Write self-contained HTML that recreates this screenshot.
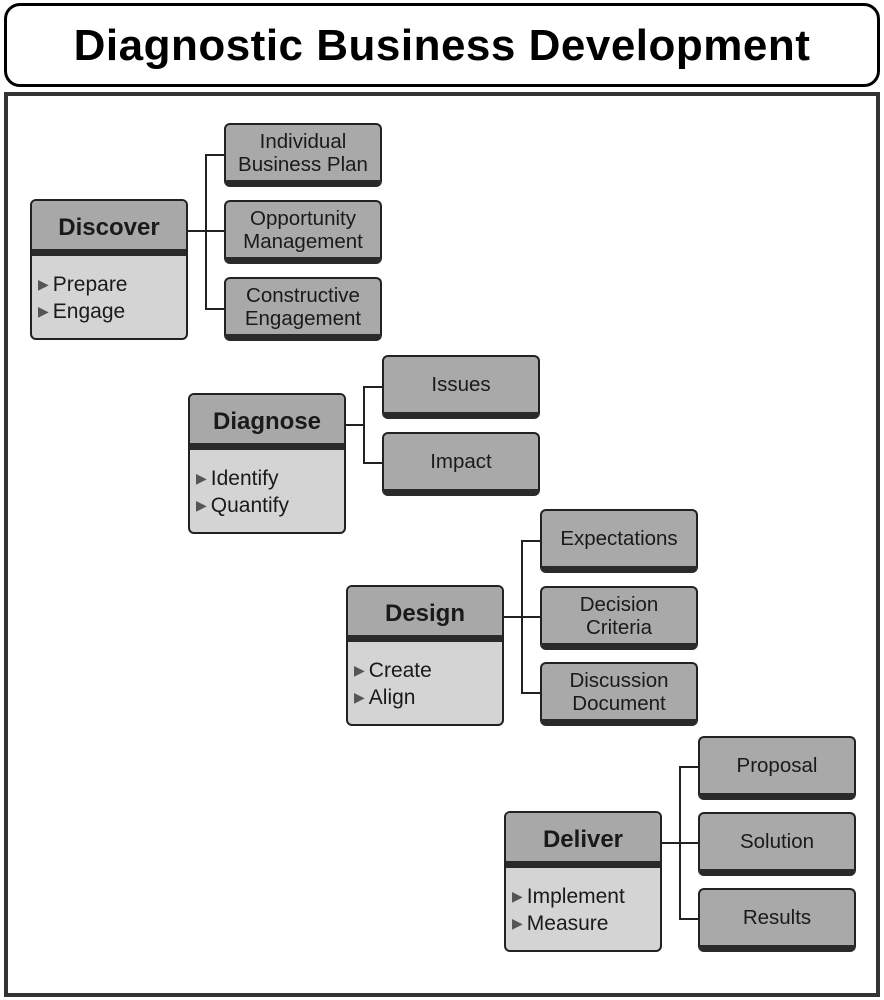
<!DOCTYPE html>
<html><head><meta charset="utf-8"><style>
body{margin:0;width:884px;height:1000px;background:#fff;position:relative;overflow:hidden;font-family:"Liberation Sans",sans-serif}
.title{position:absolute;left:4px;top:3px;width:870px;height:78px;border:3px solid #000;border-radius:16px;text-align:center;line-height:80px;font-weight:bold;font-size:44px;color:#000;letter-spacing:0.5px}
.frame{position:absolute;left:4px;top:92px;width:868px;height:897px;border:4px solid #333}
.stage{position:absolute;width:154px;height:137px;border:2px solid #222;border-radius:6px;background:#d4d4d4;overflow:hidden}
.stage .h{height:48px;background:#a8a8a8;border-bottom:7px solid #2a2a2a;text-align:center;line-height:54px;font-weight:bold;font-size:24px;color:#1a1a1a}
.stage .b{padding:15px 0 0 6px;font-size:21px;line-height:26px;color:#1a1a1a}
.stage .b span{font-size:14px;color:#555;margin-right:4px;vertical-align:2px}
.c{position:absolute;width:154px;height:55px;border:2px solid #222;border-bottom:7px solid #2a2a2a;border-radius:6px;background:#a9a9a9;display:flex;align-items:center;justify-content:center;text-align:center;font-size:20.5px;line-height:23px;color:#1a1a1a}
.l{position:absolute;background:#222}
</style></head><body>
<div class="title">Diagnostic Business Development</div>
<div class="frame"></div>

<div class="stage" style="left:30px;top:199px"><div class="h">Discover</div><div class="b"><span>&#9654;</span>Prepare<br><span>&#9654;</span>Engage</div></div>
<div class="l" style="left:188px;top:230px;width:18px;height:2px"></div>
<div class="l" style="left:205px;top:154px;width:2px;height:156px"></div>
<div class="l" style="left:205px;top:154px;width:20px;height:2px"></div>
<div class="l" style="left:205px;top:230px;width:20px;height:2px"></div>
<div class="l" style="left:205px;top:308px;width:20px;height:2px"></div>
<div class="c" style="left:224px;top:123px">Individual<br>Business Plan</div>
<div class="c" style="left:224px;top:200px">Opportunity<br>Management</div>
<div class="c" style="left:224px;top:277px">Constructive<br>Engagement</div>

<div class="stage" style="left:188px;top:393px"><div class="h">Diagnose</div><div class="b"><span>&#9654;</span>Identify<br><span>&#9654;</span>Quantify</div></div>
<div class="l" style="left:346px;top:424px;width:18px;height:2px"></div>
<div class="l" style="left:363px;top:386px;width:2px;height:78px"></div>
<div class="l" style="left:363px;top:386px;width:20px;height:2px"></div>
<div class="l" style="left:363px;top:462px;width:20px;height:2px"></div>
<div class="c" style="left:382px;top:355px">Issues</div>
<div class="c" style="left:382px;top:432px">Impact</div>

<div class="stage" style="left:346px;top:585px"><div class="h">Design</div><div class="b"><span>&#9654;</span>Create<br><span>&#9654;</span>Align</div></div>
<div class="l" style="left:504px;top:616px;width:18px;height:2px"></div>
<div class="l" style="left:521px;top:540px;width:2px;height:154px"></div>
<div class="l" style="left:521px;top:540px;width:20px;height:2px"></div>
<div class="l" style="left:521px;top:616px;width:20px;height:2px"></div>
<div class="l" style="left:521px;top:692px;width:20px;height:2px"></div>
<div class="c" style="left:540px;top:509px">Expectations</div>
<div class="c" style="left:540px;top:586px">Decision<br>Criteria</div>
<div class="c" style="left:540px;top:662px">Discussion<br>Document</div>

<div class="stage" style="left:504px;top:811px"><div class="h">Deliver</div><div class="b"><span>&#9654;</span>Implement<br><span>&#9654;</span>Measure</div></div>
<div class="l" style="left:662px;top:842px;width:18px;height:2px"></div>
<div class="l" style="left:679px;top:766px;width:2px;height:154px"></div>
<div class="l" style="left:679px;top:766px;width:20px;height:2px"></div>
<div class="l" style="left:679px;top:842px;width:20px;height:2px"></div>
<div class="l" style="left:679px;top:918px;width:20px;height:2px"></div>
<div class="c" style="left:698px;top:736px">Proposal</div>
<div class="c" style="left:698px;top:812px">Solution</div>
<div class="c" style="left:698px;top:888px">Results</div>
</body></html>
